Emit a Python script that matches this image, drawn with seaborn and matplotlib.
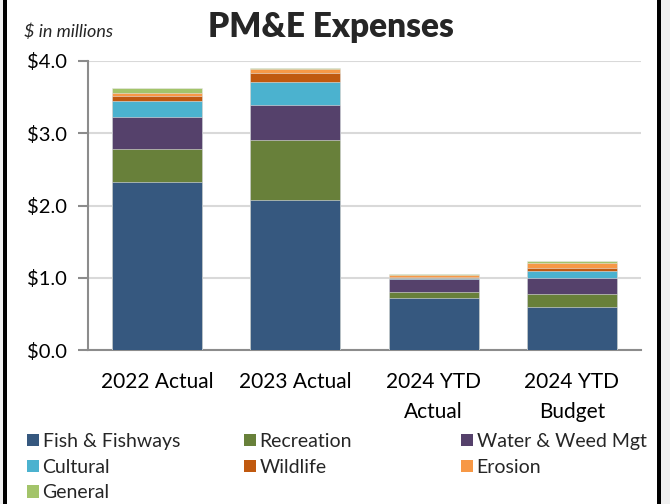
import numpy as np
import pandas as pd
import seaborn as sns
import matplotlib.pyplot as plt
from matplotlib.patches import Patch, Rectangle

# values in $ millions
periods = ["2022 Actual", "2023 Actual", "2024 YTD\nActual", "2024 YTD\nBudget"]
categories = ["Fish & Fishways", "Recreation", "Water & Weed Mgt", "Cultural",
              "Wildlife", "Erosion", "General"]
fish = [2.32, 2.08, 0.72, 0.60]
recreation = [0.46, 0.83, 0.08, 0.17]
water_weed = [0.44, 0.48, 0.18, 0.22]
cultural = [0.23, 0.32, 0.02, 0.11]
wildlife = [0.07, 0.13, 0.01, 0.04]
erosion = [0.04, 0.05, 0.03, 0.07]
general = [0.06, 0.01, 0.01, 0.02]
yticks = [0.0, 1.0, 2.0, 3.0, 4.0]

colors = ["#36587f", "#68803a", "#55416b", "#4bb2cf", "#c0590f", "#f79846", "#a3c46a"]

sns.set_theme(style="white")
plt.rcParams['font.family'] = ['Lato', 'DejaVu Sans']

series = [fish, recreation, water_weed, cultural, wildlife, erosion, general]
df = pd.DataFrame(np.array(series).T, columns=categories)
df.insert(0, "period", periods)
tops = df[categories].cumsum(axis=1)
tops.insert(0, "period", periods)

fig = plt.figure(figsize=(6.7, 5.04), dpi=100)
fig.patch.set_facecolor("white")
ax = fig.add_axes([88 / 670, 1 - 350 / 504, (641 - 88) / 670, (350 - 61) / 504])

# draw cumulative tops from the highest layer down so each layer covers the one above
for cat, col in reversed(list(zip(categories, colors))):
    sns.barplot(data=tops, x="period", y=cat, order=periods, color=col,
                saturation=1, width=0.65, errorbar=None, ax=ax,
                edgecolor="#e8e8e8", linewidth=0.4, zorder=3)

ax.set_xlim(-0.5, len(periods) - 0.5)
ax.set_ylim(0, 4.0)
ax.set_yticks(yticks)
ax.set_yticklabels([f"${v:.1f}" for v in yticks], fontsize=14.5)
ax.set_xlabel("")
ax.set_ylabel("")
ax.set_xticks(range(len(periods)))
ax.set_xticklabels(periods, fontsize=15, linespacing=1.6)
ax.set_xticks(np.arange(-0.5, len(periods)), minor=True)
ax.tick_params(axis="x", which="major", length=0, pad=16, colors="black")
ax.tick_params(axis="x", which="minor", length=7, width=1.5, color="#8c8c8c", direction="out")
ax.tick_params(axis="y", length=7, width=1.5, color="#8c8c8c", pad=8, labelcolor="black",
               left=True)
ax.yaxis.grid(True, color="#d9d9d9", linewidth=1.5, zorder=0)
ax.set_axisbelow(True)
for side in ["top", "right"]:
    ax.spines[side].set_visible(False)
for side in ["left", "bottom"]:
    ax.spines[side].set_color("#8c8c8c")
    ax.spines[side].set_linewidth(1.5)

fig.text(331 / 670, 1 - 27 / 504, "PM&E Expenses", ha="center", va="center",
         fontsize=24, fontweight="heavy")
fig.text(24 / 670, 1 - 32 / 504, "$ in millions", ha="left", va="center",
         fontsize=13, style="italic")

# legend, laid out in three columns like the original
handles = [Patch(facecolor=c, edgecolor="none") for c in colors]
col_groups = [[0, 3, 6], [1, 4], [2, 5]]
col_x = [27, 244, 461]
for xs, idx in zip(col_x, col_groups):
    fig.legend([handles[i] for i in idx], [categories[i] for i in idx],
               loc="upper left", bbox_to_anchor=(xs / 670, 1 - 433 / 504),
               frameon=False, fontsize=14, handlelength=0.6, handleheight=0.6,
               handletextpad=0.2, labelspacing=0.45, borderaxespad=0,
               borderpad=0)

# frame lines at the picture edges
fig.add_artist(Rectangle((0, 0), 3 / 670, 1, transform=fig.transFigure,
                         facecolor="#f0f0f0", edgecolor="none"))
fig.add_artist(Rectangle((3 / 670, 0), 4 / 670, 1, transform=fig.transFigure,
                         facecolor="black", edgecolor="none"))
fig.add_artist(Rectangle((657 / 670, 0), 4 / 670, 1, transform=fig.transFigure,
                         facecolor="black", edgecolor="none"))
fig.add_artist(Rectangle((661 / 670, 0), 9 / 670, 1, transform=fig.transFigure,
                         facecolor="#f0f0f0", edgecolor="none"))

fig.savefig("out.png", dpi=100)
